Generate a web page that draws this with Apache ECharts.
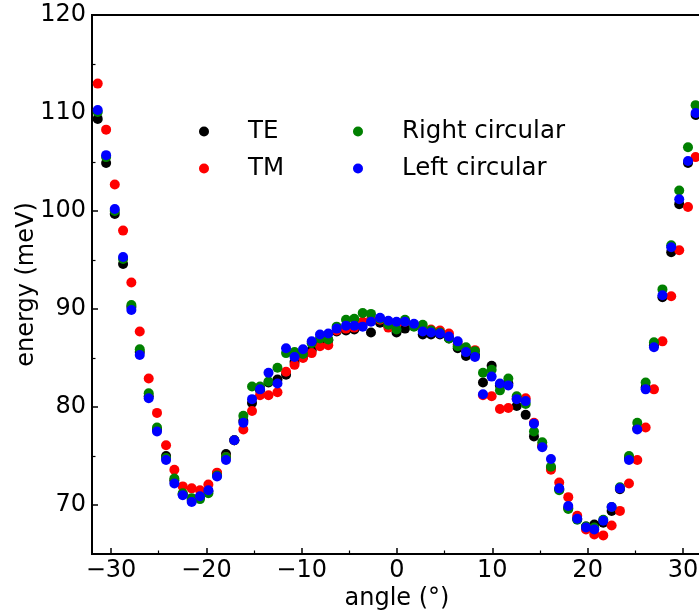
<!DOCTYPE html>
<html>
<head>
<meta charset="utf-8">
<script src="https://cdn.jsdelivr.net/npm/echarts@6/dist/echarts.min.js"></script>
<style>
html,body{margin:0;padding:0;background:#fff;}
#chart{width:699px;height:611px;}
</style>
</head>
<body>
<div id="chart"></div>
<script>
// ---- data (angle in degrees, energy in meV) ----
var angles = [-32.31,-31.40,-30.52,-29.61,-28.74,-27.87,-26.99,-26.05,-25.18,-24.23,
  -23.36,-22.48,-21.54,-20.67,-19.79,-18.88,-17.94,-17.07,-16.12,-15.21,
  -14.37,-13.48,-12.54,-11.64,-10.75,-9.86,-8.95,-8.08,-7.21,-6.33,
  -5.35,-4.48,-3.60,-2.73,-1.78,-0.91,-0.05,0.84,1.78,2.70,
  3.57,4.51,5.45,6.37,7.24,8.18,9.02,9.93,10.80,11.68,
  12.56,13.50,14.37,15.24,16.15,17.02,17.97,18.91,19.83,20.70,
  21.64,22.52,23.39,24.34,25.21,26.09,26.96,27.85,28.77,29.61,
  30.53,31.33];

var te = [114.0,109.4,104.9,99.7,94.6,90.2,85.6,81.1,77.7,75.0,
  72.5,71.1,70.5,70.8,71.4,73.2,75.2,76.6,78.6,80.4,
  81.7,82.5,82.8,83.3,84.6,85.1,85.8,86.7,86.8,87.7,
  87.8,87.9,88.5,87.6,88.6,88.3,87.6,88.0,88.3,87.4,
  87.4,87.4,87.0,86.0,85.2,85.3,82.5,84.2,82.2,82.4,
  80.1,79.2,77.0,76.0,73.8,71.6,69.7,68.6,67.8,68.0,
  68.2,69.4,71.6,74.8,77.8,82.0,86.3,91.2,95.8,100.7,
  104.9,109.8];

var tm = [117.7,113.0,108.3,102.7,98.0,92.7,87.7,82.9,79.4,76.1,
  73.6,71.9,71.7,71.5,72.1,73.3,74.9,76.6,77.7,79.6,
  81.2,81.2,81.5,83.6,84.3,85.0,85.5,86.2,86.3,87.8,
  88.0,88.1,88.7,88.9,88.9,88.1,88.5,88.7,88.4,87.9,
  87.9,87.8,87.5,86.4,85.8,85.8,81.2,81.1,79.8,79.9,
  80.9,80.9,78.4,76.1,73.6,72.3,70.8,68.9,67.5,67.0,
  66.9,67.9,69.4,72.2,74.6,77.9,81.8,86.7,91.3,96.0,
  100.4,105.5];

var rightCircular = [114.3,110.1,105.5,100.0,95.1,90.4,85.9,81.4,77.9,74.8,
  72.7,71.2,70.7,70.6,71.2,73.0,74.9,76.6,79.1,82.1,
  82.1,82.6,84.0,85.5,85.6,85.4,86.5,87.0,86.9,88.2,
  88.9,89.0,89.6,89.5,89.0,88.4,87.9,88.9,88.2,88.4,
  87.8,87.6,87.0,86.2,86.1,85.7,83.5,83.8,81.7,82.9,
  81.1,80.3,77.5,76.4,73.9,71.5,69.6,68.5,67.8,67.7,
  68.5,69.8,71.8,75.0,78.4,82.5,86.6,92.0,96.5,102.1,
  106.5,110.8];

var leftCircular = [114.5,110.3,105.7,100.2,95.3,89.9,85.3,80.9,77.5,74.6,
  72.2,71.0,70.3,70.9,71.5,72.9,74.6,76.6,78.4,80.8,
  81.8,83.5,82.4,86.0,85.1,85.9,86.7,87.4,87.5,88.0,
  88.3,88.3,88.2,88.7,89.1,88.8,88.7,88.7,88.5,87.7,
  87.6,87.5,87.2,86.7,85.6,85.1,81.3,83.1,82.4,82.2,
  80.8,80.6,78.3,75.9,74.7,71.7,69.9,68.6,67.7,67.5,
  68.4,69.8,71.7,74.6,77.7,81.8,86.1,91.4,96.3,101.2,
  105.1,110.0];

var seriesNames = ['TE', 'TM', 'Right circular', 'Left circular'];
var xMajorTicks = [-30, -20, -10, 0, 10, 20, 30];
var xMinorTicks = [-25, -15, -5, 5, 15, 25];
var yMajorTicks = [70, 80, 90, 100, 110, 120];
var yMinorTicks = [75, 85, 95, 105, 115];

// ---- chart ----
var FONT = 'DejaVu Sans';
var colors = ['#000000', '#ff0000', '#008000', '#0000ff'];
var seriesValues = [te, tm, rightCircular, leftCircular];

function pairs(vals) {
  return angles.map(function (a, i) { return [a, vals[i]]; });
}
function fmt(v) { return v < 0 ? '\u2212' + Math.abs(v) : String(v); }

var chart = echarts.init(document.getElementById('chart'), null, {renderer: 'canvas'});

var legendText = {fontFamily: FONT, fontSize: 24.5, color: '#000', lineHeight: 24, padding: [0, 0, 0, 34]};

var option = {
  animation: false,
  backgroundColor: '#ffffff',
  grid: {left: 92, top: 15, width: 610, height: 539, show: true,
         containLabel: false, outerBoundsMode: 'none',
         borderColor: '#000', borderWidth: 2, backgroundColor: 'transparent'},
  legend: [
    {data: ['TE', 'TM'], orient: 'vertical', left: 194, top: 114,
     icon: 'circle', itemWidth: 10, itemHeight: 10, itemGap: 12,
     textStyle: legendText},
    {data: ['Right circular', 'Left circular'], orient: 'vertical', left: 348, top: 114,
     icon: 'circle', itemWidth: 10, itemHeight: 10, itemGap: 12,
     textStyle: legendText}
  ],
  xAxis: [
    {type: 'value', min: -32, max: 32, position: 'bottom',
     name: 'angle (°)', nameLocation: 'middle', nameGap: 33, nameMoveOverlap: false,
     nameTextStyle: {fontFamily: FONT, fontSize: 24, color: '#000'},
     axisLine: {show: true, onZero: false, lineStyle: {color: '#000', width: 2}},
     axisTick: {show: true, inside: true, length: 6, customValues: xMajorTicks, lineStyle: {color: '#000', width: 1.5}},
     axisLabel: {show: true, customValues: xMajorTicks, formatter: fmt, margin: 5,
                 fontFamily: FONT, fontSize: 24, color: '#000'},
     splitLine: {show: false}},
    {type: 'value', min: -32, max: 32, position: 'bottom',
     axisLine: {show: false, onZero: false},
     axisTick: {show: true, inside: true, length: 3.5, customValues: xMinorTicks, lineStyle: {color: '#000', width: 1.2}},
     axisLabel: {show: false}, splitLine: {show: false}}
  ],
  yAxis: [
    {type: 'value', min: 65, max: 120, position: 'left',
     name: 'energy (meV)', nameLocation: 'middle', nameGap: 53, nameMoveOverlap: false,
     nameTextStyle: {fontFamily: FONT, fontSize: 24, color: '#000'},
     axisLine: {show: true, onZero: false, lineStyle: {color: '#000', width: 2}},
     axisTick: {show: true, inside: true, length: 6, customValues: yMajorTicks, lineStyle: {color: '#000', width: 1.5}},
     axisLabel: {show: true, customValues: yMajorTicks, formatter: fmt, margin: 6,
                 fontFamily: FONT, fontSize: 24, color: '#000'},
     splitLine: {show: false}},
    {type: 'value', min: 65, max: 120, position: 'left',
     axisLine: {show: false, onZero: false},
     axisTick: {show: true, inside: true, length: 3.5, customValues: yMinorTicks, lineStyle: {color: '#000', width: 1.2}},
     axisLabel: {show: false}, splitLine: {show: false}}
  ],
  series: seriesNames.map(function (name, k) {
    return {
      name: name, type: 'scatter', xAxisIndex: 0, yAxisIndex: 0,
      symbol: 'circle', symbolSize: 10, clip: true,
      itemStyle: {color: colors[k], opacity: 1},
      emphasis: {disabled: true},
      data: pairs(seriesValues[k]),
      z: 2 + k
    };
  })
};
chart.setOption(option);
</script>
</body>
</html>
